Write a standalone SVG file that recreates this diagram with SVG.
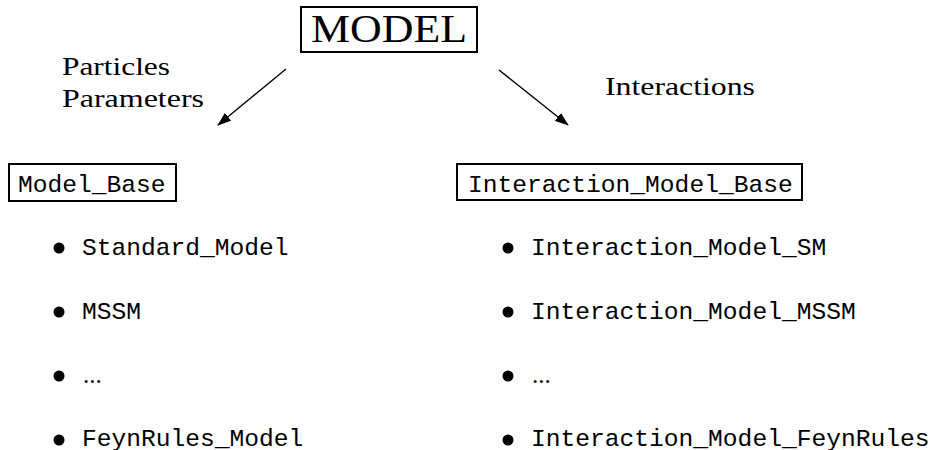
<svg xmlns="http://www.w3.org/2000/svg" width="935" height="450" viewBox="0 0 935 450">
<defs>
<marker id="ah" markerWidth="14" markerHeight="10" refX="13" refY="5" orient="auto" markerUnits="userSpaceOnUse">
<path d="M0,0 L14,5 L0,10 Z" fill="#000"/>
</marker>
<style>
.serif{font-family:"Liberation Serif","Times New Roman",serif;fill:#000}
.mono{font-family:"Liberation Mono","Courier New",monospace;font-size:24.6px;fill:#000}
.dots{font-family:"Liberation Serif","Times New Roman",serif;font-size:25px;fill:#000}
.box{fill:#fff;stroke:#000;stroke-width:2}
.conn{stroke:#000;stroke-width:1.4;fill:none}
</style>
</defs>
<rect width="935" height="450" fill="#fff"/>
<g id="model">
<rect class="box" x="301" y="7" width="176" height="45"/>
<text class="serif" x="311" y="42" font-size="41" textLength="156" lengthAdjust="spacingAndGlyphs">MODEL</text>
</g>
<g id="connectors">
<line class="conn" x1="286" y1="69" x2="218" y2="125" marker-end="url(#ah)"/>
<line class="conn" x1="499" y1="70" x2="568" y2="125" marker-end="url(#ah)"/>
</g>
<g id="labels">
<text class="serif" x="62" y="75" font-size="25" textLength="108" lengthAdjust="spacingAndGlyphs">Particles</text>
<text class="serif" x="62" y="107" font-size="25" textLength="142" lengthAdjust="spacingAndGlyphs">Parameters</text>
<text class="serif" x="605" y="95" font-size="25" textLength="150" lengthAdjust="spacingAndGlyphs">Interactions</text>
</g>
<g id="model_base">
<rect class="box" x="9" y="164" width="167" height="37"/>
<text class="mono" x="18" y="192">Model_Base</text>
</g>
<g id="model_list">
<circle cx="59" cy="248" r="5.5"/>
<text class="mono" x="82" y="255">Standard_Model</text>
<circle cx="59" cy="312" r="5.5"/>
<text class="mono" x="82" y="319">MSSM</text>
<circle cx="59" cy="376" r="5.5"/>
<text class="dots" x="83" y="383">...</text>
<circle cx="59" cy="440" r="5.5"/>
<text class="mono" x="82" y="446">FeynRules_Model</text>
</g>
<g id="interaction_model_base">
<rect class="box" x="457" y="164" width="345" height="36"/>
<text class="mono" x="468" y="192">Interaction_Model_Base</text>
</g>
<g id="interaction_list">
<circle cx="508" cy="248" r="5.5"/>
<text class="mono" x="531" y="255">Interaction_Model_SM</text>
<circle cx="508" cy="312" r="5.5"/>
<text class="mono" x="531" y="319">Interaction_Model_MSSM</text>
<circle cx="508" cy="376" r="5.5"/>
<text class="dots" x="532" y="383">...</text>
<circle cx="508" cy="440" r="5.5"/>
<text class="mono" x="531" y="446">Interaction_Model_FeynRules</text>
</g>
</svg>
